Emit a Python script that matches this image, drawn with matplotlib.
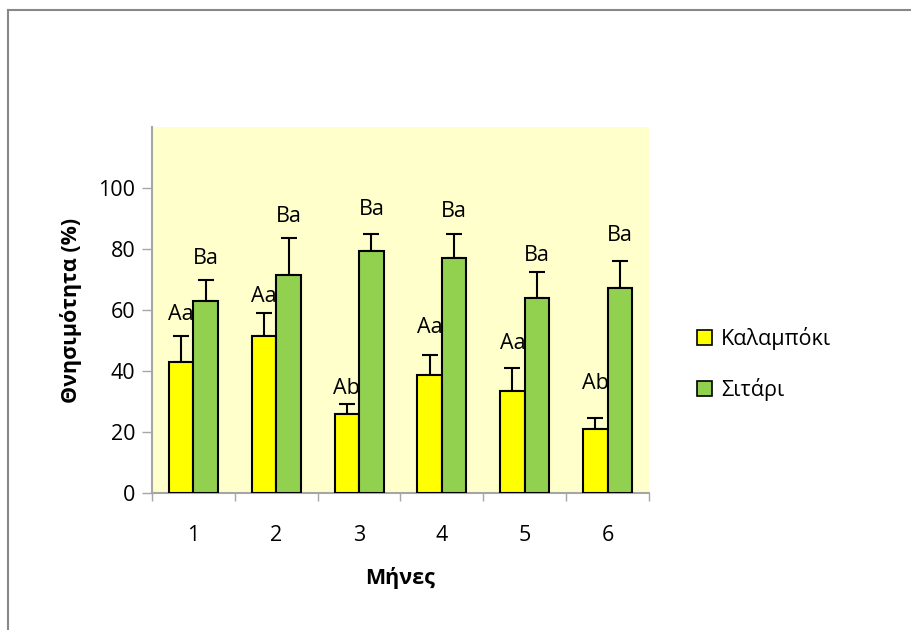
import matplotlib
matplotlib.use("Agg")
import matplotlib.pyplot as plt
import numpy as np
from matplotlib.lines import Line2D
from matplotlib.patches import Patch

plt.rcParams['font.family'] = ['Open Sans', 'DejaVu Sans']

months = ["1", "2", "3", "4", "5", "6"]
series_names = ["Καλαμπόκι", "Σιτάρι"]
corn_mean = [43.1, 51.4, 26.0, 38.7, 33.6, 20.9]
corn_err = [8.3, 7.6, 3.1, 6.4, 7.5, 3.8]
wheat_mean = [62.8, 71.6, 79.2, 77.2, 63.9, 67.1]
wheat_err = [6.9, 12.0, 5.7, 7.7, 8.4, 8.9]
corn_letters = ["Aa", "Aa", "Ab", "Aa", "Aa", "Ab"]
wheat_letters = ["Ba", "Ba", "Ba", "Ba", "Ba", "Ba"]
corn_label_gap = [7.2, 5.5, 5.0, 9.0, 7.9, 11.2]
wheat_label_gap = [7.2, 7.2, 8.0, 7.5, 5.6, 8.4]

W, H, DPI = 912, 630, 100
fig = plt.figure(figsize=(W / DPI, H / DPI), dpi=DPI)
fig.patch.set_facecolor("white")

FS = 15.5

# plot area in pixel coordinates
left, right, top, bottom = 152, 649, 127, 493
ax = fig.add_axes([left / W, 1 - bottom / H, (right - left) / W, (bottom - top) / H])
ax.set_facecolor("#FFFFCC")

x = np.arange(len(months))
bw = 0.296
yellow = "#FFFF00"
green = "#92D050"
edge_kw = dict(edgecolor="black", linewidth=1.5, zorder=3)
err_kw = dict(ecolor="black", elinewidth=1.5, capsize=6, capthick=1.5, zorder=2)

ax.bar(x - bw / 2, corn_mean, bw, color=yellow,
       yerr=[np.zeros(len(x)), corn_err], error_kw=err_kw, **edge_kw)
ax.bar(x + bw / 2, wheat_mean, bw, color=green,
       yerr=[np.zeros(len(x)), wheat_err], error_kw=err_kw, **edge_kw)

for i in range(len(x)):
    ax.text(x[i] - bw / 2, corn_mean[i] + corn_err[i] + corn_label_gap[i],
            corn_letters[i], ha="center", va="center", fontsize=FS, zorder=4)
    ax.text(x[i] + bw / 2, wheat_mean[i] + wheat_err[i] + wheat_label_gap[i],
            wheat_letters[i], ha="center", va="center", fontsize=FS, zorder=4)

ax.set_xlim(-0.5, len(x) - 0.5)
ax.set_ylim(0, 120)
ax.set_yticks(np.arange(0, 101, 20))
ax.set_xticks(x)
ax.set_xticklabels(months)
ax.set_xticks(np.arange(-0.5, len(x), 1), minor=True)

axis_gray = "#A6A6A6"
for s in ["top", "right"]:
    ax.spines[s].set_visible(False)
for s in ["left", "bottom"]:
    ax.spines[s].set_color(axis_gray)
    ax.spines[s].set_linewidth(1.5)

ax.tick_params(axis="y", which="major", length=7, width=1, color=axis_gray,
               labelsize=FS, pad=5)
ax.tick_params(axis="x", which="major", length=0, labelsize=FS, pad=23)
ax.tick_params(axis="x", which="minor", length=6, width=1, color=axis_gray)

ax.set_xlabel("Μήνες", fontsize=FS, fontweight="bold", labelpad=15)
ax.set_ylabel("Θνησιμότητα (%)", fontsize=FS, fontweight="bold", labelpad=12)

handles = [Patch(facecolor=yellow, edgecolor="black", linewidth=1.2),
           Patch(facecolor=green, edgecolor="black", linewidth=1.2)]
fig.legend(handles, series_names, loc="center left",
           bbox_to_anchor=(678 / W, 1 - 364 / H), frameon=False, fontsize=FS,
           handlelength=0.7, handleheight=0.7, handletextpad=0.4,
           labelspacing=1.3)

# chart-area border along the top and left edges
fig.add_artist(Line2D([8 / W, 8 / W], [0, 1 - 10 / H], transform=fig.transFigure,
                      color="#888888", linewidth=1.5))
fig.add_artist(Line2D([8 / W, 1], [1 - 10 / H, 1 - 10 / H], transform=fig.transFigure,
                      color="#888888", linewidth=1.5))

fig.savefig("out.png", dpi=DPI)
